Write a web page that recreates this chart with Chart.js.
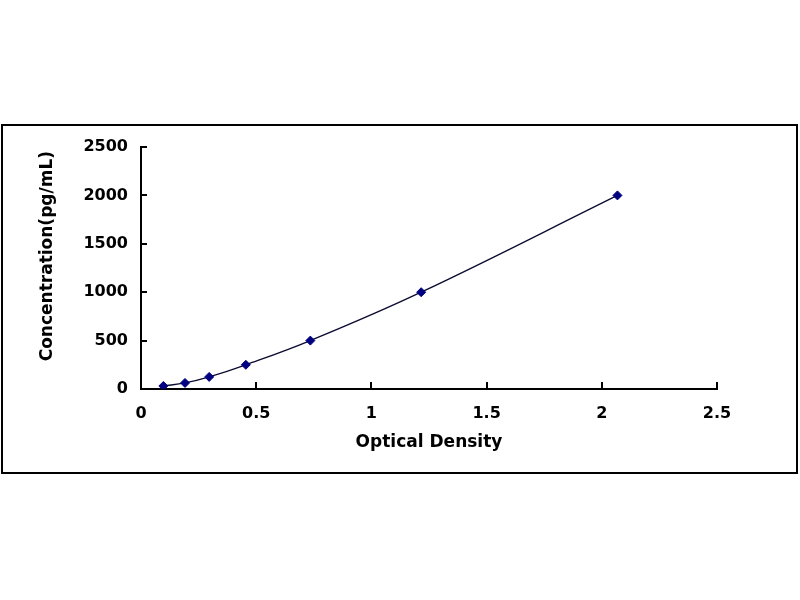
<!DOCTYPE html>
<html>
<head>
<meta charset="utf-8">
<script src="https://cdn.jsdelivr.net/npm/chart.js@4"></script>
<style>
  html, body { margin: 0; padding: 0; background: #fff; }
  #wrap { position: relative; width: 800px; height: 600px; }
</style>
</head>
<body>
<div id="wrap"><canvas id="curve" width="800" height="600"></canvas></div>
<script>
// Standard curve data
const opticalDensity = [0.097, 0.191, 0.296, 0.455, 0.735, 1.216, 2.068];
const concentration = [31.25, 62.5, 125, 250, 500, 1000, 2000];

// Tick labels
const xTickLabels = ["0", "0.5", "1", "1.5", "2", "2.5"];
const yTickLabels = ["0", "500", "1000", "1500", "2000", "2500"];

const xTitle = "Optical Density";
// leading spaces nudge the rotated title up a little, like the original
const yTitle = "    Concentration(pg/mL)";

const tickFont = { family: "DejaVu Sans", size: 16, weight: "bold" };
const titleFont = { family: "DejaVu Sans", size: 17, weight: "bold" };

// Outer frame + inward tick marks (Excel style)
const excelLook = {
  id: "excelLook",
  beforeDraw(chart) {
    const ctx = chart.ctx;
    ctx.save();
    ctx.fillStyle = "#fff";
    ctx.fillRect(0, 0, chart.width, chart.height);
    ctx.strokeStyle = "#000";
    ctx.lineWidth = 2;
    ctx.strokeRect(2, 125, 795, 348);
    ctx.restore();
  },
  afterDraw(chart) {
    const ctx = chart.ctx;
    const { x, y } = chart.scales;
    ctx.save();
    ctx.strokeStyle = "#000";
    ctx.lineWidth = 2;
    ctx.beginPath();
    x.ticks.forEach((t) => {
      const px = Math.round(x.getPixelForValue(t.value));
      ctx.moveTo(px, y.bottom);
      ctx.lineTo(px, y.bottom - 7);
    });
    y.ticks.forEach((t) => {
      const py = Math.round(y.getPixelForValue(t.value));
      ctx.moveTo(x.left, py);
      ctx.lineTo(x.left + 6, py);
    });
    ctx.stroke();
    ctx.restore();
  },
};

new Chart(document.getElementById("curve").getContext("2d"), {
  type: "scatter",
  data: {
    datasets: [
      {
        data: opticalDensity.map((od, i) => ({ x: od, y: concentration[i] })),
        showLine: true,
        tension: 0.4,
        borderColor: "#0a0a30",
        borderWidth: 1.3,
        pointStyle: "rectRot",
        pointRadius: 4.5,
        pointBackgroundColor: "#000080",
        pointBorderColor: "#000080",
        pointBorderWidth: 1,
      },
    ],
  },
  options: {
    responsive: false,
    animation: false,
    layout: { padding: { left: 0, top: 147, right: 83, bottom: 0 } },
    plugins: {
      legend: { display: false },
      tooltip: { enabled: false },
    },
    scales: {
      x: {
        type: "linear",
        min: 0,
        max: 2.5,
        afterFit: (s) => { s.height = 211; },
        grid: { display: false, drawTicks: false },
        border: { display: true, color: "#000", width: 2 },
        ticks: {
          stepSize: 0.5,
          padding: 15,
          color: "#000",
          font: tickFont,
          maxRotation: 0,
          callback: (v, i) => xTickLabels[i],
        },
        title: {
          display: true,
          text: xTitle,
          color: "#000",
          font: titleFont,
          padding: { top: 0, bottom: 147 },
        },
      },
      y: {
        type: "linear",
        min: 0,
        max: 2500,
        afterFit: (s) => { s.width = 141; },
        grid: { display: false, drawTicks: false },
        border: { display: true, color: "#000", width: 2 },
        ticks: {
          stepSize: 500,
          padding: 13,
          color: "#000",
          font: tickFont,
          callback: (v, i) => yTickLabels[i],
        },
        title: {
          display: true,
          text: yTitle,
          color: "#000",
          font: titleFont,
          padding: { top: 37, bottom: 0 },
        },
      },
    },
  },
  plugins: [excelLook],
});
</script>
</body>
</html>
